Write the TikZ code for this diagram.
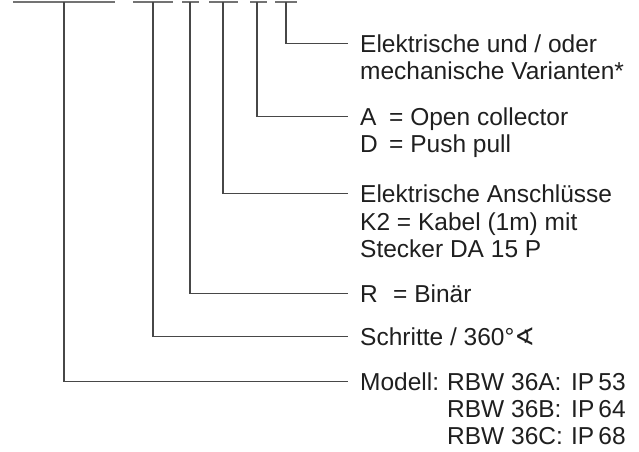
\documentclass[tikz,border=0pt]{standalone}
\usepackage{fontspec}
\setmainfont{Liberation Sans}
\newfontfamily\symfont{DejaVu Sans}
\begin{document}
\begin{tikzpicture}[x=1pt,y=-1pt,
  every node/.style={font=\fontsize{24.5}{27}\selectfont,text=black!88},
  lab/.style={anchor=base west,inner xsep=12pt,inner ysep=0pt,text height=17pt,text depth=0pt},
  leg/.style={draw=black!72,line width=1.1pt},
  bar/.style={draw=black!55,line width=1.8pt}]
 \useasboundingbox (0,0) rectangle (639,451);
 % Kopfzeile mit den Stellen des Typenschluessels
 \foreach \n/\a/\b/\m in {1/13/115/64, 2/133/173/153, 3/182/199/190, 4/209/238/223, 5/250/267/257, 6/275/297/286}{
   \draw[bar] (\a,2) -- (\b,2);
   \coordinate (t\n) at (\m,2);
 }
 \node[lab] (l6) at (348,52) {Elektrische und / oder};
 \node[lab] (l6b) at (348,79) {mechanische Varianten*};
 \node[lab] (l5) at (348,125) {\makebox[29pt][l]{A}= Open collector};
 \node[lab] (l5b) at (348,152) {\makebox[29pt][l]{D}= Push pull};
 \node[lab] (l4) at (348,202) {Elektrische Anschlüsse};
 \node[lab] (l4b) at (348,230) {K2 = Kabel (1m) mit};
 \node[lab] (l4c) at (348,257) {Stecker DA 15 P};
 \node[lab] (l3) at (348,302) {\makebox[33pt][l]{R}= Binär};
 \node[lab] (l2) at (348,345) {Schritte / 360°{\symfont ∢}};
 \node[lab] (l1) at (348,390) {\makebox[87pt][l]{Modell:}\makebox[124pt][l]{RBW 36A:}IP\,53};
 \node[lab] (l1b) at (348,417) {\hspace*{87pt}\makebox[124pt][l]{RBW 36B:}IP\,64};
 \node[lab] (l1c) at (348,444) {\hspace*{87pt}\makebox[124pt][l]{RBW 36C:}IP\,68};
 \foreach \n in {1,...,6}
   \draw[leg] (t\n) |- (l\n.west);
\end{tikzpicture}
\end{document}
